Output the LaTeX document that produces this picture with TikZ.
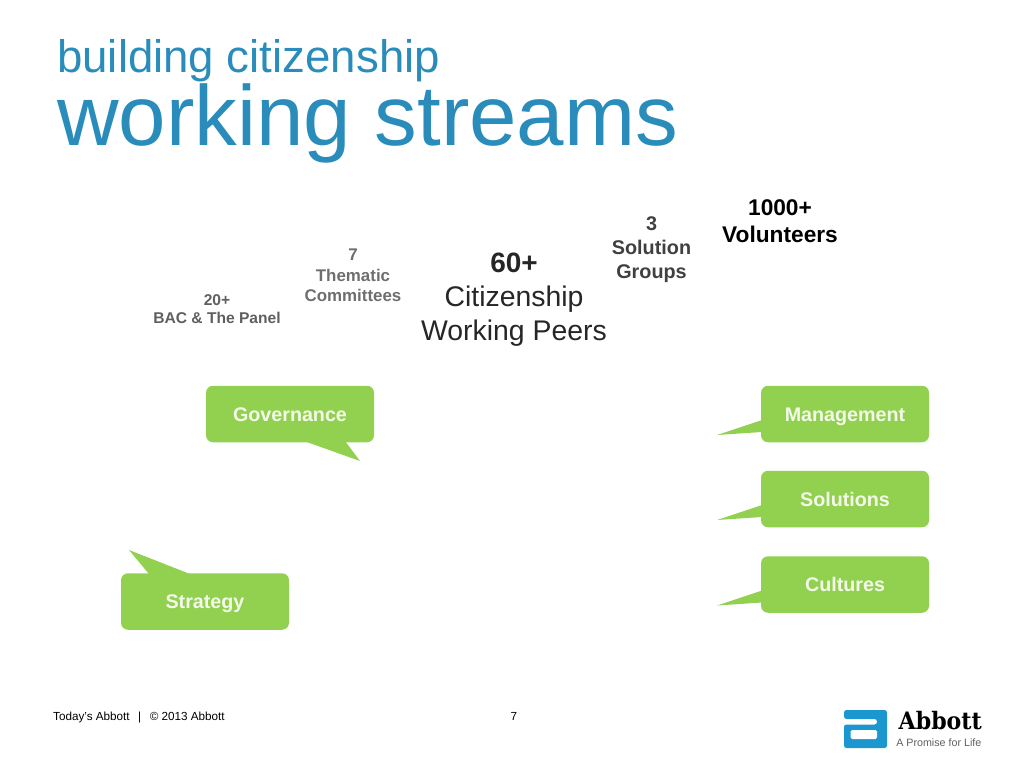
\documentclass[tikz,border=0pt]{standalone}
\usepackage{fontspec}
\setmainfont{Liberation Sans}
\newfontfamily\logofont{DejaVu Serif}
\definecolor{titleblue}{HTML}{2A8CBB}
\definecolor{calloutgreen}{HTML}{92D050}
\definecolor{logoblue}{HTML}{1B96CE}
\definecolor{darktext}{HTML}{262626}
\definecolor{solgrey}{HTML}{404040}
\definecolor{midgrey}{HTML}{5F5F5F}
\definecolor{lightgrey}{HTML}{6E6E6E}
\definecolor{softwhite}{HTML}{F4FAEA}
\newcommand{\fsz}[2]{\fontsize{#1}{#2}\selectfont}
\tikzset{
  callout/.style={fill=calloutgreen,rounded corners=7pt,minimum width=168pt,minimum height=56.5pt,inner sep=0pt,text=softwhite,font=\fsz{19.7}{24}\bfseries,text height=14.5pt,text depth=0pt,anchor=center},
  tail/.style={fill=calloutgreen,draw=none},
  plain/.style={inner sep=0pt,align=center},
  foot/.style={inner sep=0pt,anchor=base west,text=black,font=\fsz{11.7}{14}}
}
\begin{document}
\begin{tikzpicture}[x=1pt,y=-1pt]
\useasboundingbox (0,0) rectangle (1024,768);
\node[inner sep=0pt,anchor=base west,text=titleblue,font=\fsz{45.6}{50}] (t1) at (57,72.5) {building citizenship};
\node[inner sep=0pt,anchor=base west,text=titleblue,font=\fsz{85.3}{90}] (t2) at (57,145.5) {working streams};

\node[plain,text=midgrey,font=\fsz{15.6}{18}\bfseries] (a) at (217,309.5) {20+\\BAC \& The Panel};
\node[plain,text=lightgrey,font=\fsz{16.9}{20.5}\bfseries] (b) at (353,275.5) {7\\Thematic\\Committees};
\node[plain,text=darktext,font=\fsz{28.4}{34}] (c) at (514,299.5) {{\fontsize{28}{34}\selectfont\bfseries 60+}\\Citizenship\\Working Peers};
\node[plain,text=solgrey,font=\fsz{19.8}{24}\bfseries] (d) at (651.5,249.5) {3\\Solution\\Groups};
\node[plain,text=black,font=\fsz{22.7}{27}\bfseries] (e) at (780,221.5) {1000+\\Volunteers};

\node[callout] (gov) at (290,414) {Governance};
\node[callout] (str) at (205,601.5) {Strategy};
\node[callout] (man) at (845,414) {Management};
\node[callout] (sol) at (845,499) {Solutions};
\node[callout] (cul) at (845,584.5) {Cultures};

\coordinate (govtip) at (360,461);
\coordinate (strtip) at (129,550);
\coordinate (mantip) at (717,435);
\coordinate (soltip) at (717,520);
\coordinate (cultip) at (717,605.5);
\fill[tail] (304,441) -- (govtip) -- (345,441) -- cycle;
\fill[tail] (149,574) -- (strtip) -- (190,574) -- cycle;
\fill[tail] (762,420) -- (mantip) -- (762,432) -- cycle;
\fill[tail] (762,505) -- (soltip) -- (762,517) -- cycle;
\fill[tail] (762,590.5) -- (cultip) -- (762,602.5) -- cycle;

\node[foot] (f1) at (53,720) {Today’s Abbott\hspace{8.5pt}|\hspace{8.5pt}© 2013 Abbott};
\node[foot] (f2) at (510.5,720) {7};

% logo
\fill[logoblue,rounded corners=2.5pt]
  (844,710) -- (887,710) -- (887,748) -- (844,748) -- (844,724.5) -- (877,724.5) -- (877,719) -- (844,719) -- cycle;
\fill[white,rounded corners=1.5pt] (850.5,730) rectangle (877,739);
\node[inner sep=0pt,anchor=base east,text=black,font=\logofont\fsz{24}{26}\bfseries,xscale=0.92] (l1) at (982,729) {Abbott};
\node[inner sep=0pt,anchor=base east,text=midgrey,font=\fsz{10.7}{12}] (l2) at (981.5,746) {A Promise for Life};
\end{tikzpicture}
\end{document}
